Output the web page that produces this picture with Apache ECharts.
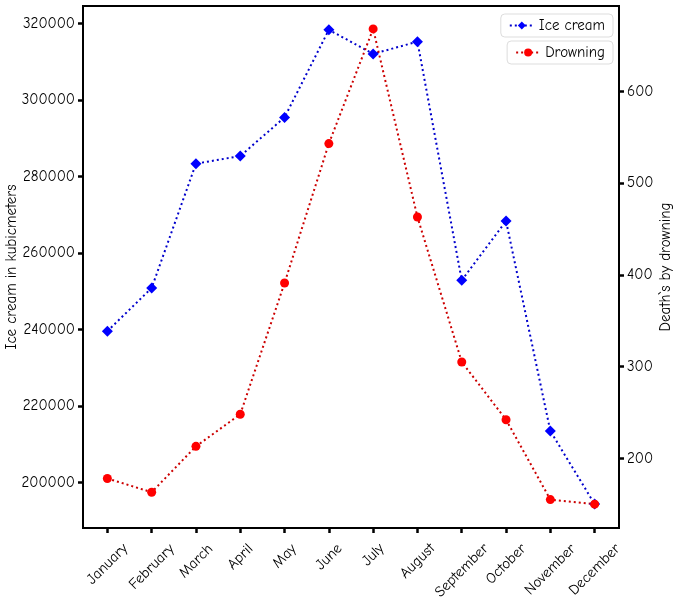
<!DOCTYPE html>
<html>
<head>
<meta charset="utf-8">
<script src="https://cdn.jsdelivr.net/npm/echarts@6/dist/echarts.min.js"></script>
<style>html,body{margin:0;padding:0;background:#fff}#c{width:677px;height:598px}</style>
</head>
<body>
<div id="c"></div>
<script>
const months = ['January','February','March','April','May','June','July','August','September','October','November','December'];
const iceCream = [239500, 250800, 283300, 285300, 295400, 318300, 312000, 315200, 252800, 268300, 213400, 194300];
const drowning = [178, 163, 213, 248, 391, 543, 668, 463, 305, 242, 155, 150];
const leftTicks = [200000, 220000, 240000, 260000, 280000, 300000, 320000];
const rightTicks = [200, 300, 400, 500, 600];
const monthTicks = months.map((m, i) => i);

const FONT = '"Comic Sans MS", "Comic Neue", "Liberation Sans", sans-serif';
const FS = 15;

// rotated month labels centred under their ticks (matplotlib ha="center" look)
const measure = document.createElement('canvas').getContext('2d');
measure.font = FS + 'px ' + FONT;
const monthRich = {};
months.forEach((m, i) => {
  const P = Math.round((measure.measureText(m).width + 12) / 2);
  monthRich['m' + i] = {padding: [P, P, 0, 0], fontSize: FS, fontFamily: FONT, color: '#000'};
});

const chart = echarts.init(document.getElementById('c'), null, {renderer: 'canvas'});
const tickStyle = {show: true, inside: false, length: 5, lineStyle: {color: '#000', width: 2.5}};
chart.setOption({
  backgroundColor: '#fff',
  animation: false,
  textStyle: {fontFamily: FONT, color: '#000'},
  grid: {left: 83, right: 58, top: 6, bottom: 70, show: true, borderColor: '#000', borderWidth: 2,
         backgroundColor: 'transparent', containLabel: false, outerBoundsMode: 'none'},
  legend: [
    {data: ['Ice cream'], top: 14, right: 64, orient: 'vertical', itemWidth: 24, itemHeight: 10,
     textStyle: {fontSize: FS, fontFamily: FONT, color: '#000'}, borderColor: '#ddd', borderWidth: 1, borderRadius: 4, padding: [4, 8]},
    {data: ['Drowning'], top: 41, right: 64, orient: 'vertical', itemWidth: 24, itemHeight: 10,
     textStyle: {fontSize: FS, fontFamily: FONT, color: '#000'}, borderColor: '#ddd', borderWidth: 1, borderRadius: 4, padding: [4, 8]}
  ],
  xAxis: {
    type: 'value', min: -0.55, max: 11.55,
    axisLine: {show: true, onZero: false, lineStyle: {color: '#000', width: 2}},
    axisTick: Object.assign({customValues: monthTicks}, tickStyle),
    splitLine: {show: false},
    axisLabel: {customValues: monthTicks, rotate: 45, align: 'center', verticalAlign: 'middle',
      fontSize: FS, color: '#000', fontFamily: FONT, margin: 14, rich: monthRich,
      formatter: v => { const i = Math.round(v); return months[i] ? '{m' + i + '|' + months[i] + '}' : ''; }}
  },
  yAxis: [
    {type: 'value', min: 188050, max: 324520, position: 'left',
     name: 'Ice cream in kubicmeters', nameLocation: 'middle', nameGap: 64, nameRotate: 90, nameMoveOverlap: false,
     nameTextStyle: {fontSize: FS, color: '#000', fontFamily: FONT},
     axisLine: {show: true, onZero: false, lineStyle: {color: '#000', width: 2}},
     axisTick: Object.assign({customValues: leftTicks}, tickStyle),
     splitLine: {show: false},
     axisLabel: {customValues: leftTicks, fontSize: FS, color: '#000', fontFamily: FONT, margin: 8,
       formatter: v => String(v)}},
    {type: 'value', min: 124, max: 693, position: 'right',
     name: 'Death`s by drowning', nameLocation: 'middle', nameGap: 39, nameRotate: 90, nameMoveOverlap: false,
     nameTextStyle: {fontSize: FS, color: '#000', fontFamily: FONT},
     axisLine: {show: true, onZero: false, lineStyle: {color: '#000', width: 2}},
     axisTick: Object.assign({customValues: rightTicks}, tickStyle),
     splitLine: {show: false},
     axisLabel: {customValues: rightTicks, fontSize: FS, color: '#000', fontFamily: FONT, margin: 8,
       formatter: v => String(v)}}
  ],
  series: [
    {name: 'Ice cream', type: 'line', yAxisIndex: 0,
     data: iceCream.map((v, i) => [i, v]),
     symbol: 'diamond', symbolSize: 11,
     itemStyle: {color: '#0000ff'},
     lineStyle: {color: '#0000cc', width: 2, type: [2, 3]}},
    {name: 'Drowning', type: 'line', yAxisIndex: 1,
     data: drowning.map((v, i) => [i, v]),
     symbol: 'circle', symbolSize: 9,
     itemStyle: {color: '#ff0000'},
     lineStyle: {color: '#cc0000', width: 2, type: [2, 3]}}
  ]
});
</script>
</body>
</html>
